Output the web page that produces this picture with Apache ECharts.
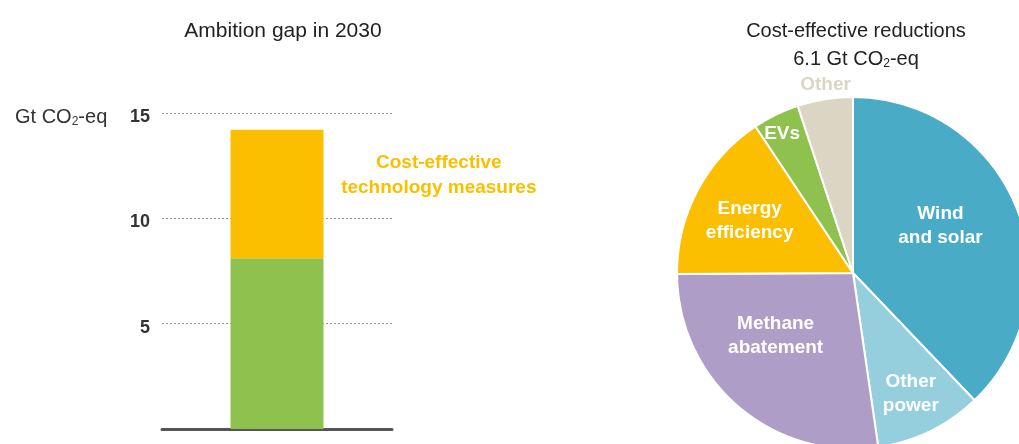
<!DOCTYPE html>
<html>
<head>
<meta charset="utf-8">
<script src="https://cdn.jsdelivr.net/npm/echarts@6/dist/echarts.min.js"></script>
<style>
  html, body { margin: 0; padding: 0; background: #fff; }
  #chart { width: 1019px; height: 444px; }
</style>
</head>
<body>
<div id="chart"></div>
<script>
// ambition gap bar (Gt CO2-eq)
const gapCategory = ["2030"];
const remainingGap = [8.1];
const costEffective = [6.1];
const yTicks = [5, 10, 15];

// cost-effective reductions split (Gt CO2-eq, total 6.1)
const pieNames = ["Wind\nand solar", "Other\npower", "Methane\nabatement", "Energy\nefficiency", "EVs", "Other"];
const pieValues = [2.31, 0.6, 1.66, 0.96, 0.26, 0.31];
const pieColors = ["#4aabc6", "#95cfde", "#ae9dc6", "#fbbf00", "#8fc14f", "#dad6c3"];

// label nudges for the pie (px)
const labelShift = {
  0: [3, -13],
  1: [18, 39],
  2: [-18, -6],
  3: [-23, -9],
  4: [-31, -57],
  5: [-13, -98],
};

const font = "Arial, 'Liberation Sans', sans-serif";
let chart = echarts.init(document.getElementById("chart"));

chart.setOption({
  animation: false,
  textStyle: { fontFamily: font },
  title: [
    {
      text: "Ambition gap in 2030",
      left: 278, top: 16, textAlign: "center",
      textStyle: { fontSize: 21, fontWeight: "normal", color: "#222" },
    },
    {
      text: "Cost-effective reductions\n{n|6.1 Gt CO}{s|2}{n|-eq}",
      left: 851, top: 12, textAlign: "center",
      textStyle: {
        fontSize: 20, fontWeight: "normal", color: "#222", lineHeight: 28,
        rich: {
          n: { fontSize: 20, color: "#222", fontFamily: font, lineHeight: 28 },
          s: { fontSize: 12, color: "#222", padding: [10, 0, 0, 0], fontFamily: font },
        },
      },
    },
  ],
  graphic: [
    {
      type: "text",
      left: 15, top: 107,
      style: {
        text: "{n|Gt CO}{s|2}{n|-eq}",
        rich: {
          n: { fontSize: 20, fill: "#333", fontFamily: font },
          s: { fontSize: 12, fill: "#333", padding: [10, 0, 0, 0], fontFamily: font },
        },
      },
    },
  ],
  grid: { left: 162, right: 627, top: 113, bottom: 15 },
  xAxis: {
    type: "category",
    data: gapCategory,
    axisLine: { lineStyle: { color: "#555", width: 3 } },
    axisTick: { show: false },
    axisLabel: { show: false },
  },
  yAxis: {
    type: "value",
    min: 0, max: 15, interval: 5,
    axisLine: { show: false },
    axisTick: { show: false },
    axisLabel: {
      margin: 12,
      formatter: (v) => (yTicks.includes(v) ? "{v|" + v + "}" : ""),
      rich: {
        v: { fontSize: 18, fontWeight: "bold", color: "#333", fontFamily: font, padding: [8, 0, 0, 0] },
      },
    },
    splitLine: { lineStyle: { type: [2, 2], color: "#999", width: 1 } },
  },
  series: [
    {
      type: "bar",
      stack: "gap",
      data: remainingGap,
      barWidth: 93,
      itemStyle: { color: "#8fc14f" },
    },
    {
      type: "bar",
      stack: "gap",
      data: costEffective,
      barWidth: 93,
      itemStyle: { color: "#fbbf00" },
      label: {
        show: true,
        position: ["224%", "35%"],
        align: "center",
        verticalAlign: "middle",
        formatter: "Cost-effective\ntechnology measures",
        fontSize: 19, fontWeight: "bold", color: "#fbbf00", lineHeight: 25,
      },
    },
    {
      type: "pie",
      center: [853, 273],
      radius: [0, 176],
      startAngle: 90,
      clockwise: true,
      data: pieNames.map((n, i) => ({
        name: n,
        value: pieValues[i],
        itemStyle: { color: pieColors[i] },
        label: i === 5 ? { color: "#dad6c3" } : {},
      })),
      itemStyle: { borderColor: "#fff", borderWidth: 2 },
      label: {
        show: true,
        position: "inside",
        formatter: "{b}",
        color: "#fff",
        fontSize: 19,
        fontWeight: "bold",
        lineHeight: 24,
      },
      labelLine: { show: false },
      labelLayout: (p) => {
        const s = labelShift[p.dataIndex] || [0, 0];
        return { dx: s[0], dy: s[1] };
      },
    },
  ],
});
</script>
</body>
</html>
